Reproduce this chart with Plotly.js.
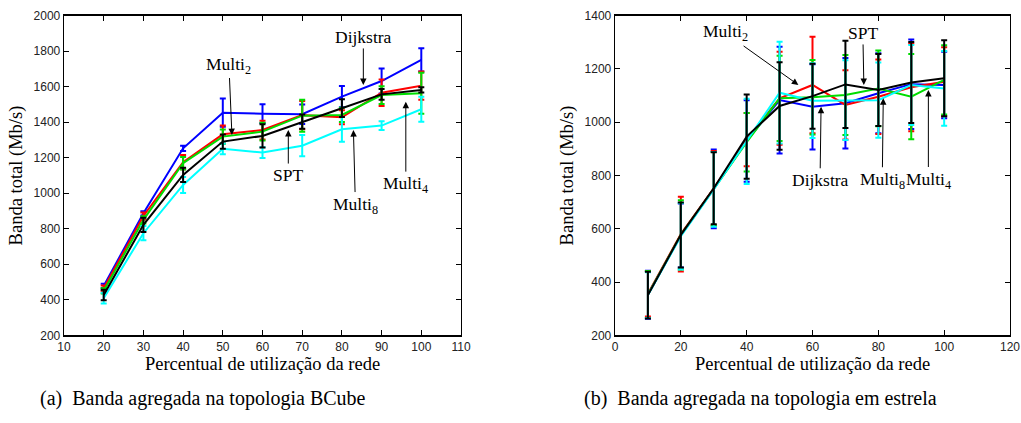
<!DOCTYPE html>
<html>
<head>
<meta charset="utf-8">
<script src="https://cdn.plot.ly/plotly-3.0.1.min.js"></script>
<style>html,body{margin:0;padding:0;background:#fff;}#chart{width:1021px;height:423px;}</style>
</head>
<body>
<div id="chart"></div>
<script>
// ---- (a) BCube ----
const xA = [20, 30, 40, 50, 60, 70, 80, 90, 100];
const dijkstraA = [478, 887, 1253, 1454, 1448, 1445, 1544, 1632, 1751];
const multi2A   = [465, 872, 1175, 1332, 1356, 1440, 1428, 1566, 1606];
const multi4A   = [450, 850, 1169, 1319, 1347, 1437, 1441, 1553, 1563];
const multi8A   = [409, 775, 1047, 1250, 1229, 1268, 1360, 1381, 1473];
const sptA      = [427, 822, 1103, 1291, 1323, 1403, 1479, 1557, 1582];
const errDijkstraA = [12, 12, 15, 80, 53, 55, 60, 70, 65];
const errMulti2A   = [15, 20, 40, 50, 53, 80, 40, 75, 80];
const errMulti4A   = [15, 20, 35, 40, 50, 90, 40, 50, 115];
const errMulti8A   = [30, 40, 45, 30, 30, 60, 70, 25, 70];
const errSptA      = [30, 40, 40, 40, 65, 40, 50, 30, 15];

// ---- (b) estrela ----
const xB = [10, 20, 30, 40, 50, 60, 70, 80, 90, 100];
const dijkstraB = [352, 575, 750, 930, 1083, 1058, 1071, 1109, 1143, 1140];
const multi2B   = [356, 580, 752, 935, 1090, 1140, 1065, 1096, 1131, 1152];
const multi4B   = [353, 577, 750, 925, 1090, 1094, 1102, 1127, 1096, 1159];
const multi8B   = [351, 572, 748, 928, 1111, 1081, 1083, 1083, 1140, 1127];
const sptB      = [351, 577, 752, 946, 1061, 1098, 1142, 1121, 1149, 1165];
const errDijkstraB = [90, 120, 148, 153, 200, 160, 170, 150, 168, 125];
const errMulti2B   = [85, 140, 140, 100, 175, 181, 130, 140, 165, 130];
const errMulti4B   = [88, 130, 138, 110, 160, 140, 150, 142, 160, 130];
const errMulti8B   = [86, 125, 140, 160, 191, 140, 150, 141, 150, 140];
const errSptB      = [88, 122, 135, 158, 164, 122, 164, 135, 152, 143];

const seriesNames = ['Dijkstra', 'Multi2', 'Multi4', 'Multi8', 'SPT'];
const colors = ['#0000ff', '#ff0000', '#00dd00', '#00ffff', '#000000'];

function mk(x, y, err, i, xa, ya) {
  return {
    x: x, y: y, type: 'scatter', mode: 'lines', name: seriesNames[i],
    xaxis: xa, yaxis: ya, showlegend: false,
    line: {color: colors[i], width: 2},
    error_y: {type: 'data', array: err, visible: true, color: colors[i], thickness: 2, width: 3}
  };
}

const data = [
  mk(xA, dijkstraA, errDijkstraA, 0, 'x', 'y'),
  mk(xA, multi2A, errMulti2A, 1, 'x', 'y'),
  mk(xA, multi4A, errMulti4A, 2, 'x', 'y'),
  mk(xA, multi8A, errMulti8A, 3, 'x', 'y'),
  mk(xA, sptA, errSptA, 4, 'x', 'y'),
  mk(xB, dijkstraB, errDijkstraB, 0, 'x2', 'y2'),
  mk(xB, multi2B, errMulti2B, 1, 'x2', 'y2'),
  mk(xB, multi4B, errMulti4B, 2, 'x2', 'y2'),
  mk(xB, multi8B, errMulti8B, 3, 'x2', 'y2'),
  mk(xB, sptB, errSptB, 4, 'x2', 'y2')
];

const serif = 'Liberation Serif';
const sans = 'Liberation Sans';
const axBase = {
  showline: true, linecolor: '#000', linewidth: 1.3, mirror: 'ticks',
  ticks: 'inside', ticklen: 5, tickcolor: '#000', tickwidth: 1,
  showgrid: false, zeroline: false,
  tickfont: {family: sans, size: 12, color: '#222'}
};
const xTitle = {text: 'Percentual de utilização da rede', font: {family: serif, size: 18.5, color: '#000'}, standoff: 2};
const yTitle = {text: 'Banda total (Mb/s)', font: {family: serif, size: 18.5, color: '#000'}, standoff: 6};

const yDom = [1 - 335.3 / 423, 1 - 15.7 / 423];

function ann(xref, yref, x, y, ax, ay, text) {
  return {xref: xref, yref: yref, x: x, y: y, ax: ax, ay: ay, text: text,
    showarrow: true, arrowhead: 2, arrowsize: 1.3, arrowwidth: 1, arrowcolor: '#000',
    font: {family: serif, size: 17.5, color: '#000'}};
}

const layout = {
  width: 1021, height: 423,
  margin: {l: 0, r: 0, t: 0, b: 0},
  paper_bgcolor: '#fff', plot_bgcolor: '#fff',
  font: {family: serif},
  xaxis: Object.assign({}, axBase, {domain: [64 / 1021, 461 / 1021], range: [10, 110], dtick: 10, tick0: 10, anchor: 'y', title: xTitle}),
  yaxis: Object.assign({}, axBase, {domain: yDom, range: [200, 2000], dtick: 200, tick0: 200, anchor: 'x', title: yTitle}),
  xaxis2: Object.assign({}, axBase, {domain: [615 / 1021, 1010 / 1021], range: [0, 120], dtick: 20, tick0: 0, anchor: 'y2', title: xTitle}),
  yaxis2: Object.assign({}, axBase, {domain: yDom, range: [200, 1400], dtick: 200, tick0: 200, anchor: 'x2', title: yTitle}),
  annotations: [
    ann('x', 'y', 52.3, 1328, -3, -70, 'Multi<sub>2</sub>'),
    ann('x', 'y', 85.4, 1610, 0, -48, 'Dijkstra'),
    ann('x', 'y', 66.5, 1356, 0, 45, 'SPT'),
    ann('x', 'y', 96.1, 1516, 0, 83, 'Multi<sub>4</sub>'),
    ann('x', 'y', 82.9, 1356, 2, 75, 'Multi<sub>8</sub>'),
    ann('x2', 'y2', 55.7, 1140, -73, -52, 'Multi<sub>2</sub>'),
    ann('x2', 'y2', 75.6, 1140, -1, -52, 'SPT'),
    ann('x2', 'y2', 62.6, 1058, -1, 73, 'Dijkstra'),
    ann('x2', 'y2', 81.5, 1090, -1, 82, 'Multi<sub>8</sub>'),
    ann('x2', 'y2', 95.2, 1121, 0, 90, 'Multi<sub>4</sub>'),
    {xref: 'paper', yref: 'paper', x: 38 / 1021, y: 1 - 398 / 423, xanchor: 'left', yanchor: 'middle',
     text: '(a)  Banda agregada na topologia BCube', showarrow: false,
     font: {family: serif, size: 20, color: '#000'}},
    {xref: 'paper', yref: 'paper', x: 582 / 1021, y: 1 - 398 / 423, xanchor: 'left', yanchor: 'middle',
     text: '(b)  Banda agregada na topologia em estrela', showarrow: false,
     font: {family: serif, size: 20, color: '#000'}}
  ]
};

Plotly.newPlot('chart', data, layout, {displayModeBar: false, staticPlot: true});
</script>
</body>
</html>
